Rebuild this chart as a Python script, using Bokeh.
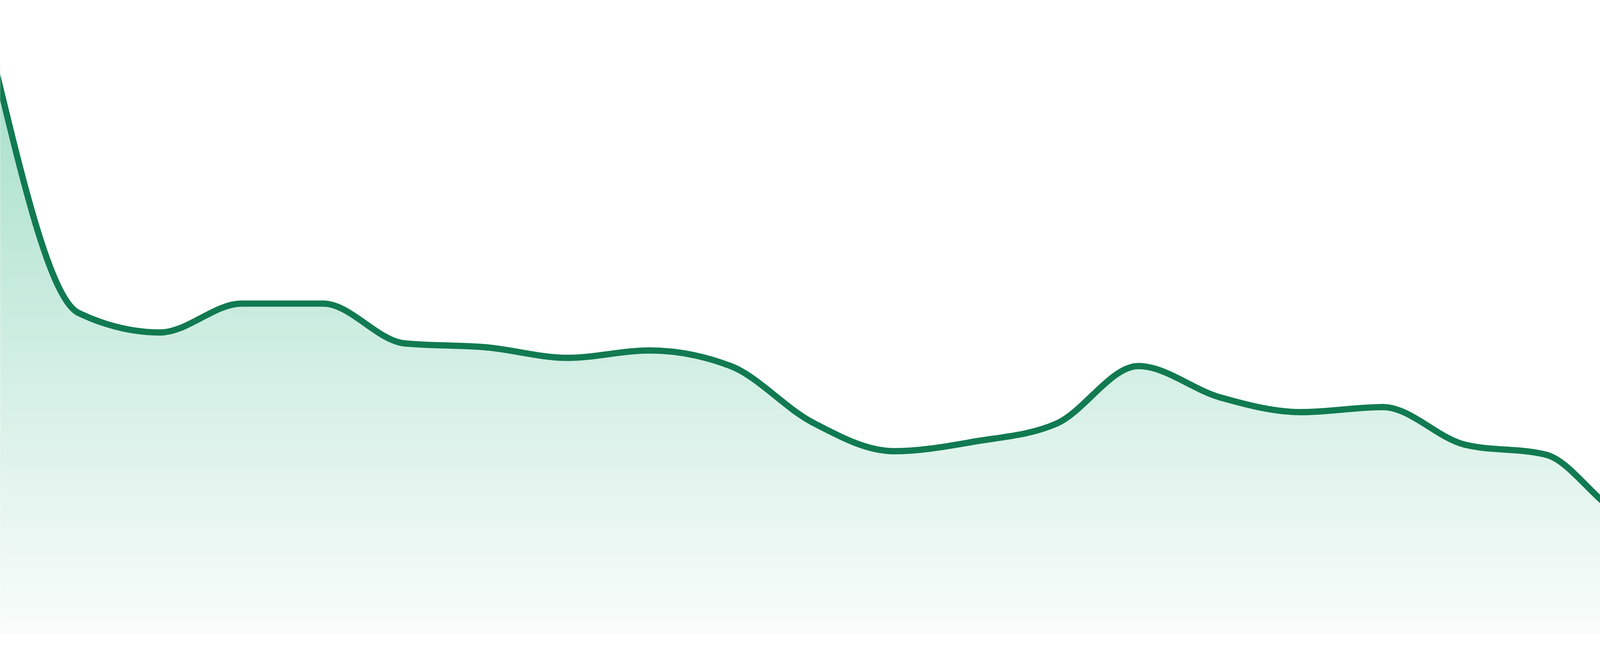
import numpy as np
from bokeh.plotting import figure
from bokeh.models import Range1d
from bokeh.embed import file_html
from bokeh.resources import INLINE

# ---- data ----
x_idx = list(range(24))
values = [1434, 823, 773, 847, 847, 745, 735, 708, 727, 687, 543, 469,
          494, 540, 687, 607, 569, 582, 486, 460, 304, 286, 231, 191]

# ---- style ----
LINE_COLOR = "#117a51"
TOP_RGB = (168, 224, 203)
BOT_RGB = (249, 252, 251)
LINE_W = 16

W, H = 4784, 1664
STEP = 4800 / 23.0

p = figure(width=W, height=H, output_backend="svg", toolbar_location=None,
           x_range=Range1d(8 / STEP, 4792 / STEP), y_range=Range1d(-40, 1624),
           min_border=0)
p.xaxis.visible = False
p.yaxis.visible = False
p.grid.visible = False
p.outline_line_color = None
p.background_fill_color = "white"
p.border_fill_color = "white"

x = np.array(x_idx, dtype=float)
y = np.array(values, dtype=float)


def monotone_tangents(x, y):
    n = len(x)
    h = np.diff(x)
    s = np.diff(y) / h
    t = np.zeros(n)
    for i in range(1, n - 1):
        h0, h1 = h[i - 1], h[i]
        s0, s1 = s[i - 1], s[i]
        pp = (s0 * h1 + s1 * h0) / (h0 + h1)
        t[i] = (np.sign(s0) + np.sign(s1)) * min(abs(s0), abs(s1), 0.5 * abs(pp))
    t[0] = (3 * s[0] - t[1]) / 2
    t[-1] = (3 * s[-1] - t[-2]) / 2
    return t


t = monotone_tangents(x, y)
h = np.diff(x)
x0, x1 = x[:-1], x[1:]
y0, y1 = y[:-1], y[1:]
cx0 = x0 + h / 3
cy0 = y0 + t[:-1] * h / 3
cx1 = x1 - h / 3
cy1 = y1 - t[1:] * h / 3

# gradient background bands below the curve
band = 6
tops = np.arange(0, 1460, band, dtype=float)
band_bottom = tops
band_top = tops + band + 0.6
colors = []
for b in tops:
    Y = 1632 - (b + band / 2)
    f = min(max((Y - 198) / (1632 - 198), 0), 1)
    r = [int(round(TOP_RGB[k] + (BOT_RGB[k] - TOP_RGB[k]) * f)) for k in range(3)]
    colors.append("#%02x%02x%02x" % tuple(r))
p.quad(left=-2, right=26, bottom=band_bottom, top=band_top,
       fill_color=colors, line_color=None)

# white mask above the curve (sampled from the Bezier segments)
ss = np.linspace(0, 1, 60)
mx, my = [], []
for i in range(len(x0)):
    u = 1 - ss
    bx = u**3 * x0[i] + 3 * u**2 * ss * cx0[i] + 3 * u * ss**2 * cx1[i] + ss**3 * x1[i]
    by = u**3 * y0[i] + 3 * u**2 * ss * cy0[i] + 3 * u * ss**2 * cy1[i] + ss**3 * y1[i]
    mx.extend(bx.tolist())
    my.extend(by.tolist())
mx = [x[0] - 1] + mx + [x[-1] + 1]
my = [my[0]] + my + [my[-1]]
p.varea(x=mx, y1=my, y2=[1800] * len(mx), fill_color="white")

# the line
p.bezier(x0=x0, y0=y0, x1=x1, y1=y1, cx0=cx0, cy0=cy0, cx1=cx1, cy1=cy1,
         line_color=LINE_COLOR, line_width=LINE_W, line_cap="round")

open("out.html", "w").write(file_html(p, INLINE))
